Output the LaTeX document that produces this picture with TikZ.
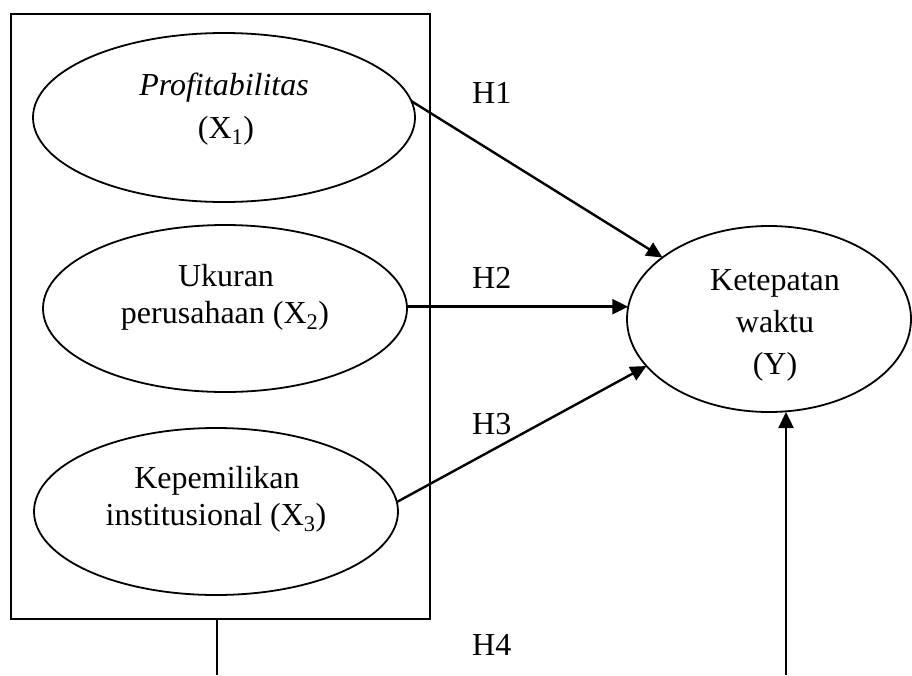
\documentclass[tikz,border=0pt]{standalone}
\usepackage{fontspec}
\setmainfont{Liberation Serif}
\usetikzlibrary{shapes.geometric,arrows.meta}
\begin{document}
\begin{tikzpicture}[x=1pt,y=-1pt,
  txt/.style={font=\fontsize{32}{38}\selectfont, inner sep=0pt, anchor=base},
  hlab/.style={font=\fontsize{32}{38}\selectfont, inner sep=0pt, anchor=base west},
  oval/.style={draw, ellipse, line width=1.8pt, inner sep=0pt, outer sep=0pt},
  frame/.style={draw, rectangle, line width=2.2pt, inner sep=0pt, outer sep=0pt},
  arr/.style={-{Triangle[length=16pt,width=15pt]}, line width=2.4pt},
  conn/.style={line width=2.2pt}]
\useasboundingbox (0,0) rectangle (912,675);
% frame
\node[frame, minimum width=419pt, minimum height=605pt] (box) at (220.5,316.5) {};
% ellipses
\node[oval, minimum width=382pt, minimum height=169pt] (e1) at (224,117.5) {};
\node[oval, minimum width=364pt, minimum height=167pt] (e2) at (225,308.5) {};
\node[oval, minimum width=364pt, minimum height=167pt] (e3) at (216,511.5) {};
\node[oval, minimum width=284pt, minimum height=186pt] (ey) at (769,319) {};
% texts
\node[txt] (t1a) at (224,95.5) {\itshape Profitabilitas};
\node[txt] (t1b) at (226,138) {(X\textsubscript{1})};
\node[txt] (t2a) at (226,286.5) {Ukuran};
\node[txt] (t2b) at (225,323) {perusahaan (X\textsubscript{2})};
\node[txt] (t3a) at (217,488) {Kepemilikan};
\node[txt] (t3b) at (216,525) {institusional (X\textsubscript{3})};
\node[txt] (tya) at (775,290) {Ketepatan};
\node[txt] (tyb) at (775,332) {waktu};
\node[txt] (tyc) at (775,374) {(Y)};
% hypothesis labels
\node[hlab] (h1) at (472,103) {H1};
\node[hlab] (h2) at (472,288) {H2};
\node[hlab] (h3) at (472,434) {H3};
\node[hlab] (h4) at (472,655) {H4};
% connectors
\draw[arr] (e1.5) -- (ey.150);
\draw[arr] (e2.east |- ey.175) -- (ey.175);
\draw[arr] (e3.3) -- (ey.201);
\coordinate (h4s) at (217,675);
\coordinate (h4e) at (786,675);
\draw[conn] (box.south -| h4s) -- (h4s);
\draw[arr] (h4e) -- (ey.south -| h4e);
\end{tikzpicture}
\end{document}
